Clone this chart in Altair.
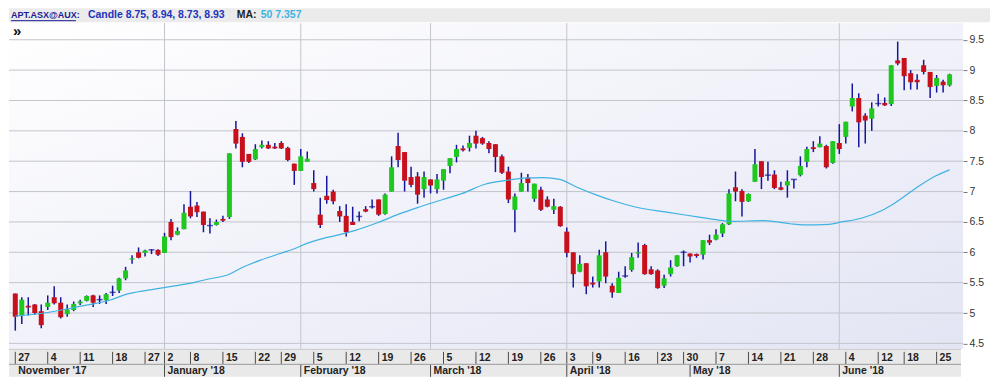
import altair as alt
import pandas as pd

# ---------------- data ----------------
opens = [5.32, 4.96, 5.12, 5.14, 5.03, 5.10, 5.26, 5.17, 4.98, 5.05,
         5.16, 5.20, 5.29, 5.22, 5.21, 5.34, 5.37, 5.57, 5.88, 6.00,
         5.99, 6.04, 6.04, 5.99, 6.50, 6.29, 6.38, 6.75, 6.77, 6.67,
         6.44, 6.45, 6.55, 6.58, 8.03, 7.90, 7.62, 7.53, 7.73, 7.77,
         7.74, 7.80, 7.72, 7.46, 7.34, 7.49, 7.14, 6.62, 6.93, 7.00,
         6.68, 6.60, 6.50, 6.59, 6.71, 6.75, 6.87, 6.63, 7.00, 7.75,
         7.65, 7.24, 7.25, 7.04, 7.20, 7.04, 7.18, 7.42, 7.57, 7.71,
         7.72, 7.92, 7.88, 7.80, 7.78, 7.58, 7.33, 6.70, 7.00, 7.23,
         6.88, 7.03, 6.87, 6.70, 6.75, 6.34, 6.00, 5.68, 5.82, 5.50,
         5.52, 6.00, 5.45, 5.33, 5.61, 5.71, 5.98, 6.12, 5.72, 5.70,
         5.45, 5.64, 5.77, 6.00, 5.98, 5.97, 5.96, 6.20, 6.21, 6.31,
         6.46, 7.07, 7.01, 6.84, 7.16, 7.50, 7.27, 7.28, 7.07, 7.10,
         7.20, 7.27, 7.49, 7.73, 7.73, 7.75, 7.47, 7.80, 7.90, 8.40,
         8.54, 8.25, 8.20, 8.45, 8.46, 8.44, 9.16, 9.20, 8.95, 8.84,
         9.08, 8.97, 8.74, 8.81, 8.75]
highs = [5.32, 5.26, 5.26, 5.15, 5.14, 5.29, 5.44, 5.26, 5.14, 5.19,
         5.22, 5.29, 5.30, 5.29, 5.33, 5.45, 5.58, 5.76, 5.95, 6.08,
         6.04, 6.05, 6.05, 6.32, 6.55, 6.41, 6.79, 7.01, 6.83, 6.67,
         6.56, 6.54, 6.60, 7.63, 8.16, 7.96, 7.62, 7.78, 7.84, 7.83,
         7.80, 7.83, 7.74, 7.46, 7.70, 7.66, 7.35, 6.90, 7.26, 7.03,
         6.76, 6.79, 6.75, 6.67, 6.76, 6.87, 6.87, 6.97, 7.58, 7.97,
         7.65, 7.41, 7.32, 7.33, 7.20, 7.29, 7.37, 7.55, 7.77, 7.76,
         7.92, 8.00, 7.90, 7.83, 7.78, 7.61, 7.41, 6.97, 7.31, 7.29,
         7.13, 7.08, 6.92, 6.88, 6.76, 6.41, 6.00, 5.95, 5.82, 5.60,
         6.04, 6.18, 5.49, 5.68, 5.77, 5.99, 6.16, 6.14, 5.77, 5.72,
         5.63, 5.87, 5.95, 6.03, 5.98, 5.98, 6.20, 6.29, 6.38, 6.48,
         7.04, 7.33, 7.04, 6.97, 7.70, 7.50, 7.49, 7.35, 7.16, 7.35,
         7.20, 7.58, 7.74, 7.83, 7.91, 7.77, 7.83, 8.11, 8.15, 8.78,
         8.62, 8.29, 8.47, 8.61, 8.55, 9.08, 9.47, 9.20, 9.00, 8.93,
         9.17, 8.97, 8.92, 8.84, 8.94]
lows = [4.71, 4.82, 4.96, 4.97, 4.75, 5.05, 5.14, 4.91, 4.94, 5.03,
        5.13, 5.19, 5.10, 5.15, 5.15, 5.28, 5.33, 5.54, 5.81, 5.90,
        5.93, 5.97, 5.94, 5.99, 6.20, 6.28, 6.38, 6.56, 6.58, 6.33,
        6.31, 6.44, 6.50, 6.55, 7.71, 7.40, 7.47, 7.52, 7.71, 7.70,
        7.70, 7.70, 7.50, 7.11, 7.34, 7.49, 7.00, 6.40, 6.80, 6.79,
        6.50, 6.26, 6.45, 6.51, 6.66, 6.72, 6.60, 6.62, 7.00, 7.40,
        7.00, 7.07, 6.80, 6.90, 6.97, 6.97, 7.03, 7.30, 7.48, 7.66,
        7.66, 7.71, 7.77, 7.63, 7.32, 7.29, 6.81, 6.33, 7.00, 7.00,
        6.83, 6.68, 6.74, 6.63, 6.42, 5.92, 5.42, 5.67, 5.31, 5.42,
        5.42, 5.49, 5.25, 5.33, 5.58, 5.68, 5.91, 5.63, 5.63, 5.40,
        5.41, 5.60, 5.76, 5.77, 5.83, 5.91, 5.88, 6.12, 6.20, 6.25,
        6.45, 6.84, 6.59, 6.83, 7.16, 7.04, 7.18, 7.04, 7.02, 6.90,
        7.05, 7.25, 7.40, 7.65, 7.73, 7.38, 7.46, 7.62, 7.79, 8.32,
        7.73, 7.79, 8.00, 8.40, 8.41, 8.41, 9.08, 8.67, 8.68, 8.68,
        8.93, 8.54, 8.63, 8.63, 8.73]
closes = [4.94, 5.22, 5.09, 5.00, 4.80, 5.17, 5.16, 4.93, 5.06, 5.15,
          5.19, 5.28, 5.17, 5.22, 5.31, 5.34, 5.57, 5.70, 5.90, 5.91,
          6.03, 6.04, 5.96, 6.26, 6.25, 6.35, 6.65, 6.59, 6.66, 6.45,
          6.44, 6.50, 6.52, 7.63, 7.79, 7.49, 7.49, 7.70, 7.77, 7.71,
          7.71, 7.71, 7.52, 7.34, 7.58, 7.54, 7.04, 6.45, 6.86, 6.84,
          6.59, 6.33, 6.45, 6.59, 6.67, 6.75, 6.62, 6.95, 7.40, 7.52,
          7.18, 7.11, 6.95, 7.24, 7.10, 7.20, 7.37, 7.55, 7.70, 7.68,
          7.80, 7.79, 7.79, 7.70, 7.57, 7.31, 6.87, 6.92, 7.14, 7.14,
          7.13, 6.70, 6.75, 6.76, 6.43, 5.99, 5.64, 5.81, 5.44, 5.47,
          5.95, 5.60, 5.34, 5.58, 5.61, 5.92, 6.00, 5.64, 5.64, 5.41,
          5.57, 5.75, 5.95, 6.00, 5.93, 5.94, 6.20, 6.16, 6.29, 6.46,
          6.97, 7.00, 6.83, 6.96, 7.45, 7.24, 7.27, 7.06, 7.03, 7.17,
          7.20, 7.42, 7.70, 7.70, 7.79, 7.40, 7.83, 7.70, 8.15, 8.54,
          8.14, 8.17, 8.37, 8.45, 8.42, 9.08, 9.11, 8.90, 8.80, 8.80,
          8.97, 8.72, 8.87, 8.75, 8.93]

# 50-day moving average, read at positions along the trading-day axis
ma_pos = [0, 4.5, 9.5, 14.5, 17.5, 20, 24.8, 27.8, 29.8, 32.8, 34.8, 37.8,
          40.8, 42.8, 45.3, 47.5, 49.2, 52.4, 55.9, 58.9, 62.4, 65.9, 68.9,
          72.4, 75.4, 78.4, 81.4, 83.9, 86.4, 89.4, 92.4, 95.4, 100.4, 105.4,
          108.4, 110.4, 115.4, 119.4, 121.4, 125.4, 127.4, 130.4, 133.4,
          135.4, 139.4, 141.9, 144]
ma_val = [4.95, 5.00, 5.10, 5.21, 5.32, 5.37, 5.45, 5.51, 5.56, 5.63, 5.74,
          5.87, 5.98, 6.05, 6.16, 6.23, 6.27, 6.36, 6.49, 6.62, 6.75, 6.87,
          6.97, 7.12, 7.18, 7.22, 7.23, 7.20, 7.08, 6.95, 6.84, 6.75, 6.66,
          6.58, 6.53, 6.51, 6.52, 6.47, 6.45, 6.46, 6.50, 6.56, 6.68, 6.80,
          7.10, 7.26, 7.357]

day_tick_pos = [0, 5, 10, 15, 20, 23, 27, 32, 37, 41, 46, 51, 56, 61, 66, 71,
                76, 81, 85, 89, 94, 99, 103, 108, 113, 118, 123, 128, 133, 137, 142]
day_tick_lab = ["27", "4", "11", "18", "27", "2", "8", "15", "22", "29", "5",
                "12", "19", "26", "5", "12", "19", "26", "3", "9", "16", "23",
                "30", "7", "14", "21", "28", "4", "12", "18", "25"]
month_pos = [0, 23, 44, 64, 85, 104, 127]
month_lab = ["November '17", "January '18", "February '18", "March '18",
             "April '18", "May '18", "June '18"]
month_grid_pos = [23, 44, 64, 85, 127]
price_ticks = [4.5, 5, 5.5, 6, 6.5, 7, 7.5, 8, 8.5, 9, 9.5]

# ---------------- layout ----------------
W, H = 955, 326
FONT = "Liberation Sans"
GREEN, RED, NAVY = "#1ec81e", "#c8101c", "#16169a"
GRID = "#c4c4cc"

df = pd.DataFrame({"i": range(len(opens)), "o": opens, "h": highs,
                   "l": lows, "c": closes})
df["col"] = [GREEN if c >= o else RED for o, c in zip(opens, closes)]
ma_df = pd.DataFrame({"i": ma_pos, "v": ma_val})
day_df = pd.DataFrame({"i": day_tick_pos, "lab": day_tick_lab})
mon_df = pd.DataFrame({"i": month_pos, "lab": month_lab})
mgrid_df = pd.DataFrame({"i": month_grid_pos})
pt_df = pd.DataFrame({"p": price_ticks})
one = pd.DataFrame({"a": [0]})

xs = alt.Scale(domain=[-0.2, 145.3], nice=False, zero=False)
ys = alt.Scale(domain=[4.41, 9.773], nice=False, zero=False)
yax = alt.Axis(orient="right", values=price_ticks, format="~g", grid=False,
               domain=False, tickSize=4, tickColor="#777", labelColor="#333",
               labelFont=FONT, labelFontSize=10.5, labelPadding=2, title=None)


def X(f="i"):
    return alt.X(f"{f}:Q", scale=xs, axis=None)


def Y(f):
    return alt.Y(f"{f}:Q", scale=ys, axis=yax)


bg = alt.Chart(one).mark_rect(
    fill=alt.LinearGradient(gradient="linear",
                            stops=[alt.GradientStop(color="#ffffff", offset=0),
                                   alt.GradientStop(color="#e3e5f4", offset=1)],
                            x1=0, x2=1, y1=0, y2=1)
).encode(x=alt.value(0), x2=alt.value(W), y=alt.value(0), y2=alt.value(H))

hgrid = alt.Chart(pt_df).mark_rule(color=GRID, strokeWidth=1).encode(
    y=Y("p"), x=alt.value(0), x2=alt.value(W))
vgrid = alt.Chart(mgrid_df).mark_rule(color=GRID, strokeWidth=1).encode(
    x=X(), y=alt.value(0), y2=alt.value(H))

wick = alt.Chart(df).mark_rule(color=NAVY, strokeWidth=1.5).encode(
    x=X(), y=Y("l"), y2="h:Q")
body = alt.Chart(df).mark_bar(size=5).encode(
    x=X(), y=Y("o"), y2="c:Q", color=alt.Color("col:N", scale=None))
doji = alt.Chart(df).transform_filter("datum.o == datum.c").mark_tick(
    orient="horizontal", size=6, thickness=1.5, color=NAVY).encode(
    x=X(), y=Y("o"))
ma = alt.Chart(ma_df).mark_line(color="#3fb2e2", strokeWidth=1.2,
                                interpolate="monotone").encode(
    x=X(), y=Y("v"))

chev = alt.Chart(one).mark_text(text="»", font=FONT, fontSize=15,
                                fontWeight="bold", color="#111",
                                align="left", baseline="middle").encode(
    x=alt.value(4), y=alt.value(8))

# header bar
hdr_bg = alt.Chart(one).mark_rect(color="#ebebeb").encode(
    x=alt.value(0), x2=alt.value(W + 27), y=alt.value(-15), y2=alt.value(-1))


def htext(t, x, color, size):
    return alt.Chart(one).mark_text(text=t, font=FONT, fontSize=size,
                                    fontWeight="bold", color=color,
                                    align="left", baseline="middle").encode(
        x=alt.value(x), y=alt.value(-8))


h1 = htext("APT.ASX@AUX:", 2, "#1c1c96", 9)
h1u = alt.Chart(one).mark_rule(color="#1c1c96", strokeWidth=1).encode(
    x=alt.value(2), x2=alt.value(67), y=alt.value(-2.5))
h2 = htext("Candle 8.75, 8.94, 8.73, 8.93", 79, "#2233bb", 10.5)
h3 = htext("MA:", 228, "#222222", 10.5)
h4 = htext("50 7.357", 252, "#3cb4e6", 10.5)

# bottom label rows
row_bg = alt.Chart(one).mark_rect(color="#e9e9e9").encode(
    x=alt.value(0), x2=alt.value(W - 2), y=alt.value(H + 1), y2=alt.value(H + 28))
row_top = alt.Chart(one).mark_rule(color="#c6c6c6").encode(
    x=alt.value(0), x2=alt.value(W - 2), y=alt.value(H + 0.5))
row_mid = alt.Chart(one).mark_rule(color="#9a9a9a").encode(
    x=alt.value(0), x2=alt.value(W - 2), y=alt.value(H + 15.5))
day_sep = alt.Chart(day_df).mark_rule(color="#4a4a4a").encode(
    x=X(), y=alt.value(H + 3), y2=alt.value(H + 15))
day_txt = alt.Chart(day_df).mark_text(
    align="left", baseline="middle", dx=3, font=FONT, fontSize=10.5,
    fontWeight="bold", color="#222").encode(
    x=X(), y=alt.value(H + 9), text="lab:N")
mon_sep = alt.Chart(mon_df).transform_filter("datum.i > 0").mark_rule(
    color="#4a4a4a").encode(x=X(), y=alt.value(H + 16), y2=alt.value(H + 28))
mon_txt = alt.Chart(mon_df).mark_text(
    align="left", baseline="middle", dx=3, font=FONT, fontSize=10.5,
    fontWeight="bold", color="#222").encode(
    x=X(), y=alt.value(H + 22), text="lab:N")

chart = alt.layer(
    bg, hgrid, vgrid, wick, body, doji, ma, chev,
    hdr_bg, h1, h1u, h2, h3, h4,
    row_bg, row_top, row_mid, day_sep, day_txt, mon_sep, mon_txt
).properties(width=W, height=H, padding=0, background="white"
).configure_view(stroke=None)

chart.save("out.html", embed_options={"renderer": "svg", "actions": False})
